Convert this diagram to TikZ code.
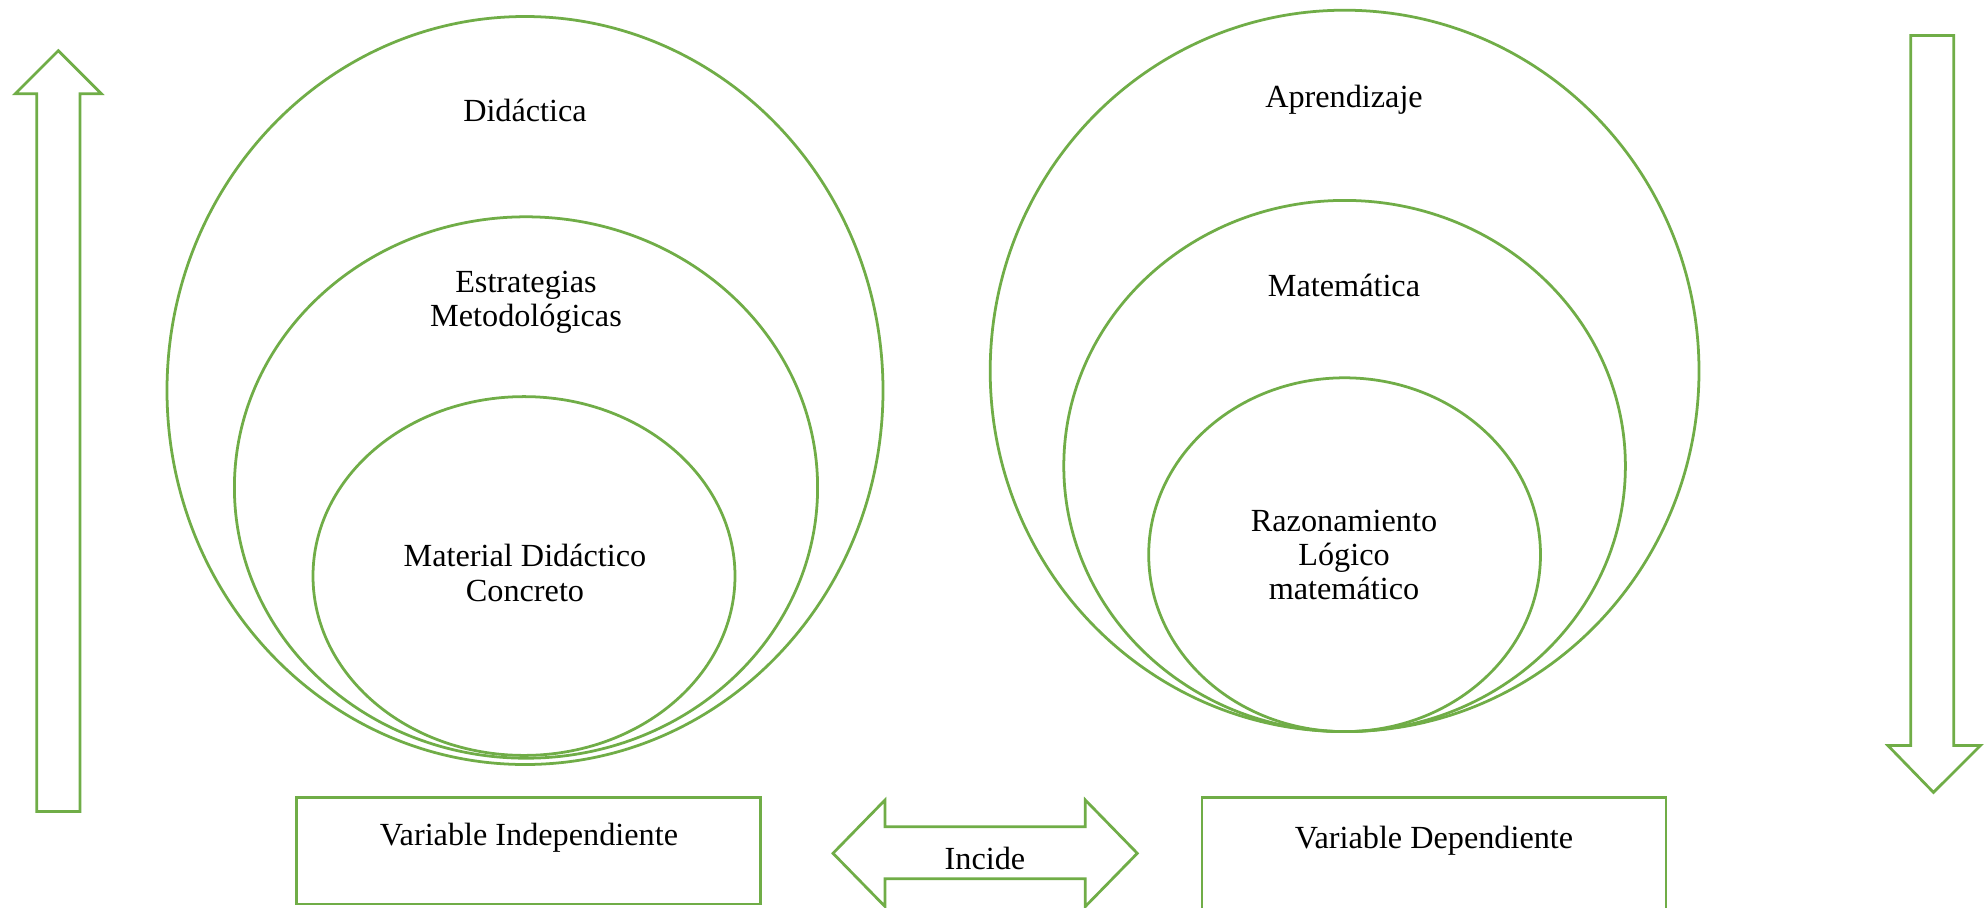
\documentclass[tikz,border=0pt]{standalone}
\usepackage{fontspec}
\setmainfont{Liberation Serif}
\usetikzlibrary{shapes.geometric}
\def\pxu{0.38}
\tikzset{
  gline/.style={draw=grn, line width=1.05pt},
  ell/.style={gline, ellipse, inner sep=0pt, minimum width=#1*\pxu*1pt},
  lbl/.style={align=center, inner sep=1pt, font=\fontsize{12.25}{13}\selectfont, text=black},
}
\definecolor{grn}{HTML}{70AD47}
\begin{document}
\begin{tikzpicture}[x=0.38pt, y=-0.38pt]
\clip (0,0) rectangle (1988,907);
\fill[white] (0,0) rectangle (1988,907);
% left ellipses
\node[ell=716, minimum height=748*\pxu*1pt] (lb) at (525,390.5) {};
\node[ell=583.2, minimum height=541.4*\pxu*1pt] (lm) at (526,487.5) {};
\node[ell=422, minimum height=358.8*\pxu*1pt] (li) at (524,576) {};
% right ellipses
\node[ell=708.8, minimum height=721.4*\pxu*1pt] (rb) at (1344.6,370.9) {};
\node[ell=561.6, minimum height=531.2*\pxu*1pt] (rm) at (1344.6,466) {};
\node[ell=391.8, minimum height=353.8*\pxu*1pt] (ri) at (1344.6,554.7) {};
% labels
\node[lbl] (t1) at (525,110) {Didáctica};
\node[lbl] (t2) at (526,302) {Estrategias\\Metodológicas};
\node[lbl] (t3) at (525,573) {Material Didáctico\\Concreto};
\node[lbl] (t4) at (1344,100) {Aprendizaje};
\node[lbl] (t5) at (1344,285) {Matemática};
\node[lbl] (t6) at (1344,555) {Razonamiento\\Lógico\\matemático};
% up arrow
\draw[gline, line join=miter] (36.8,811.5) -- (36.8,93.8) -- (15.2,93.8) -- (58.3,50.7) -- (101.4,93.8) -- (79.9,93.8) -- (79.9,811.5) -- cycle;
% down arrow
\draw[gline, line join=miter] (1910.7,35.5) -- (1953.8,35.5) -- (1953.8,745.5) -- (1980.5,745.5) -- (1933.5,792.4) -- (1887.9,745.5) -- (1910.7,745.5) -- cycle;
% boxes
\draw[gline] (296.7,797.5) rectangle (760.7,904);
\node[lbl] (vi) at (529,838) {Variable Independiente};
\draw[gline] (1202,930) -- (1202,797.5) -- (1666,797.5) -- (1666,930);
\node[lbl] (vd) at (1434,841) {Variable Dependiente};
% double arrow
\draw[gline, line join=miter] (833,853.3) -- (885,800) -- (885,826.7) -- (1085.3,826.7) -- (1085.3,800) -- (1137.3,853.3) -- (1085.3,906.5) -- (1085.3,878.7) -- (885,878.7) -- (885,906.5) -- cycle;
\node[lbl] (inc) at (985,858) {Incide};
\end{tikzpicture}
\end{document}
